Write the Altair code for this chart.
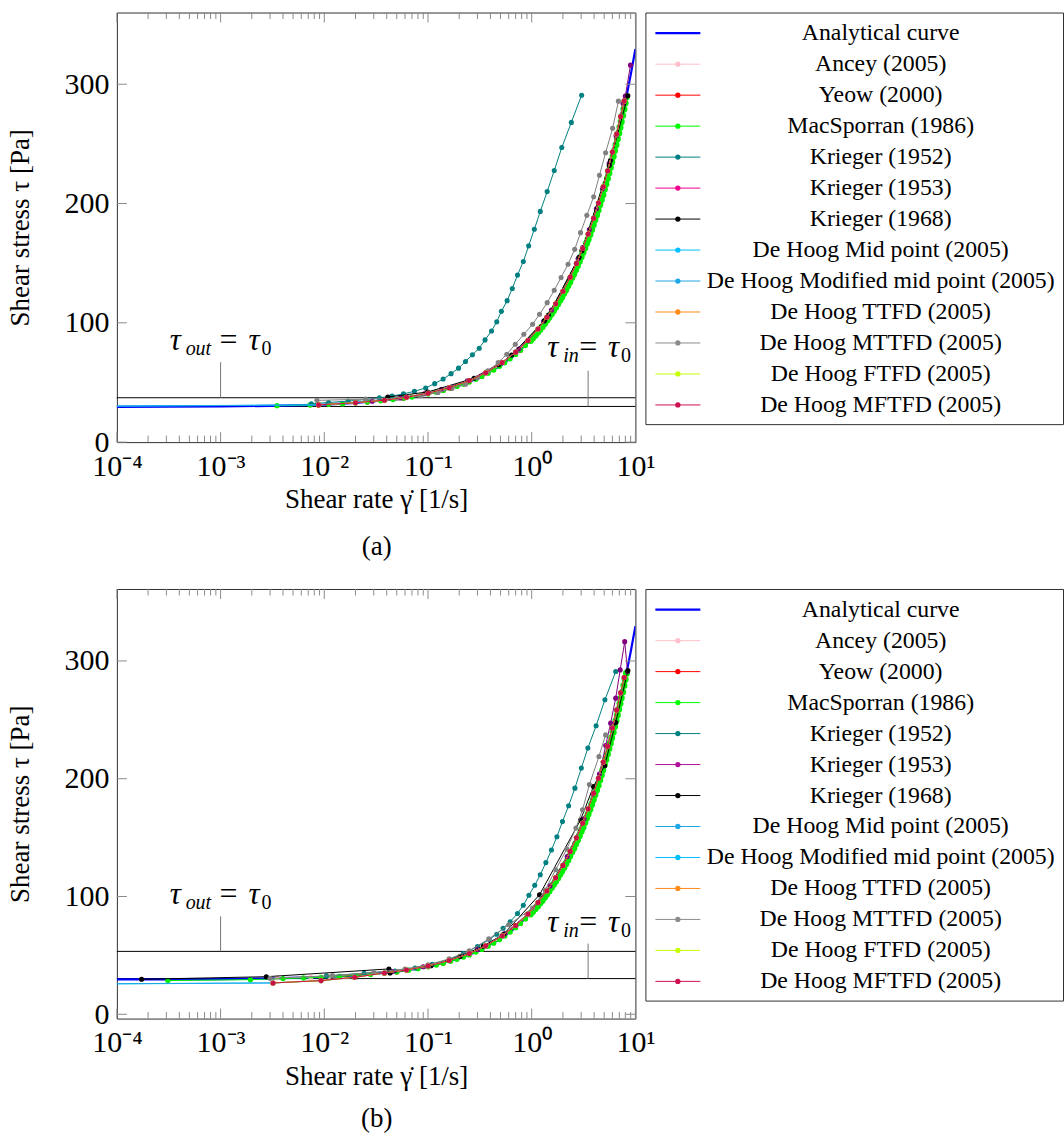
import altair as alt
import pandas as pd

# ---------------- legend entries ----------------
series_names = [
    "Analytical curve", "Ancey (2005)", "Yeow (2000)", "MacSporran (1986)",
    "Krieger (1952)", "Krieger (1953)", "Krieger (1968)",
    "De Hoog Mid point (2005)", "De Hoog Modified mid point (2005)",
    "De Hoog TTFD (2005)", "De Hoog MTTFD (2005)", "De Hoog FTFD (2005)",
    "De Hoog MFTFD (2005)",
]
legend_colors_a = ["#0000ff", "#ffc0cb", "#ff0000", "#00ff00", "#008080", "#f0008c", "#000000",
                   "#00bfff", "#1ea7e6", "#ff8c1a", "#8c8c8c", "#c8ff00", "#d0104f"]
legend_colors_b = ["#0000ff", "#ffc0cb", "#ff0000", "#00ff00", "#008080", "#b0109a", "#000000",
                   "#1ea7e6", "#00bfff", "#ff8c1a", "#8c8c8c", "#c8ff00", "#d0104f"]
mark_colors = ["#0000ff", "#ffc0cb", "#e00000", "#00ee00", "#008080", "#800080", "#000000",
               "#00bfff", "#1ea7e6", "#ff8c1a", "#808080", "#c8ff00", "#c8104a"]

x_tick_values = [1e-4, 1e-3, 1e-2, 1e-1, 1e0, 1e1]
x_tick_labels = ["10⁻⁴", "10⁻³", "10⁻²", "10⁻¹", "10⁰", "10¹"]
x_minor_values = [k * 10.0 ** e for e in range(-4, 1) for k in range(2, 10)]
y_tick_values = [0, 100, 200, 300]

# ---------------- data : shared analytical curve ----------------
analytic_x = [1e-4, 3e-4, 1e-3, 3e-3, 0.01, 0.02, 0.05, 0.1, 0.2, 0.3, 0.5, 0.7, 1, 1.5, 2, 3,
              4, 5, 6, 7, 8, 9, 10]
analytic_tau = [29.6, 29.7, 29.9, 30.4, 31.5, 32.9, 36.1, 40.3, 47.3, 53.4, 64.0, 73.5, 86.4,
                105.8, 123.3, 155.3, 184.3, 211.4, 237.0, 261.4, 284.8, 307.6, 329.5]

# MacSporran upper branch (dense), common to both panels
mac_hi_x = [0.97, 1.02, 1.08, 1.14, 1.2, 1.26, 1.33, 1.4, 1.47, 1.55, 1.62, 1.7, 1.78, 1.87,
            1.95, 2.04, 2.13, 2.23, 2.33, 2.44, 2.54, 2.65, 2.76, 2.88, 3.0, 3.12, 3.25, 3.38,
            3.5, 3.64, 3.78, 3.92, 4.07, 4.22, 4.37, 4.53, 4.69, 4.85, 5.02, 5.19, 5.37, 5.55,
            5.73, 5.91, 6.1, 6.3, 6.5, 6.7, 6.9, 7.1, 7.3, 7.52, 7.75, 7.97, 8.2]
mac_hi_tau = [85.2, 87.2, 89.6, 92.0, 94.4, 96.7, 99.4, 102.1, 104.7, 107.6, 110.1, 113.0, 115.8,
              118.9, 121.7, 124.7, 127.7, 131.0, 134.3, 137.9, 141.0, 144.5, 147.9, 151.6, 155.3,
              158.9, 162.8, 166.6, 170.1, 174.1, 178.1, 182.1, 186.3, 190.4, 194.5, 198.9, 203.2,
              207.4, 211.9, 216.4, 221.0, 225.6, 230.2, 234.7, 239.5, 244.4, 249.3, 254.1, 259.0,
              263.8, 268.5, 273.7, 279.1, 284.2, 289.5]

# ---------------- panel (a) ----------------
ancey_a_x = [0.0073, 0.015, 0.035, 0.085, 0.19, 0.43, 0.97, 1.95, 3.5, 5.37, 8.2]
ancey_a_tau = [31.1, 32.2, 34.6, 39.1, 46.7, 60.4, 85.2, 121.7, 170.1, 221.0, 289.5]
yeow_a_x = [0.011, 0.026, 0.058, 0.14, 0.33, 0.78, 1.62, 3.0, 5.02, 7.75]
yeow_a_tau = [31.7, 33.6, 36.8, 43.3, 55.1, 77.1, 110.1, 155.3, 211.9, 279.1]
mac_a_lo_x = [0.0035, 0.0073, 0.011, 0.015, 0.02, 0.026, 0.035, 0.046, 0.058, 0.07, 0.085, 0.1,
              0.12, 0.14, 0.165, 0.19, 0.22, 0.25, 0.29, 0.33, 0.38, 0.43, 0.49, 0.55, 0.62,
              0.7, 0.78, 0.87]
mac_a_lo_tau = [30.5, 31.1, 31.7, 32.2, 32.9, 33.6, 34.6, 35.7, 36.8, 37.8, 39.1, 40.3, 41.8,
                43.3, 45.0, 46.7, 48.6, 50.4, 52.8, 55.1, 57.8, 60.4, 63.5, 66.5, 69.8, 73.5,
                77.1, 81.0]
k52_a_x = [0.0075, 0.011, 0.017, 0.025, 0.034, 0.045, 0.058, 0.074, 0.095, 0.116, 0.14, 0.167,
           0.197, 0.23, 0.268, 0.312, 0.355, 0.41, 0.46, 0.51, 0.58, 0.65, 0.73, 0.83, 0.935,
           1.06, 1.21, 1.41, 1.65, 1.95, 2.41, 3.03]
k52_a_tau = [32.2, 33.2, 34.4, 35.7, 37.1, 38.6, 40.4, 42.6, 45.4, 49.0, 52.9, 57.4, 62.0, 67.6,
             73.2, 78.7, 85.7, 93.2, 100.8, 109.6, 118.6, 128.8, 140.0, 151.4, 164.5, 178.4,
             193.4, 210.0, 227.7, 246.9, 268.0, 290.8]
k53_a_x = [0.029, 0.054, 0.092, 0.135, 0.24, 0.51, 0.75, 1.3, 1.55, 2.8, 3.1, 3.6, 4.2, 4.8, 5.6,
           6.5, 7.6, 8.0, 8.96]
k53_a_tau = [34.3, 37.0, 40.5, 44.2, 51.3, 66.5, 78.0, 101.3, 110.8, 153.7, 163.0, 178.2, 195.6,
             212.3, 233.7, 256.8, 283.9, 290.0, 316.0]
k68_a_x = [0.041, 0.099, 0.278, 0.48, 0.64, 1.33, 1.45, 2.86, 3.05, 5.6, 5.75, 8.46]
k68_a_tau = [37.8, 42.0, 53.5, 64.8, 73.0, 102.0, 106.5, 155.0, 160.5, 232.0, 236.0, 290.3]
mftfd_a_x = [0.0088, 0.02, 0.038, 0.062, 0.1, 0.16, 0.25, 0.36, 0.52, 0.7, 0.92, 1.15, 1.4, 1.7,
             2.0, 2.35, 2.7, 3.1, 3.5, 3.95, 4.4, 4.9, 5.4, 6.0, 6.6, 7.2, 7.8]
mftfd_a_tau = [31.2, 33.0, 35.1, 37.6, 41.0, 45.6, 51.6, 58.1, 66.7, 75.4, 85.2, 94.8, 104.7,
               115.9, 126.4, 138.3, 149.8, 162.3, 174.5, 187.6, 200.4, 214.1, 227.5, 243.1,
               258.3, 273.0, 286.0]
dhmid_a_x = [5e-5] + mftfd_a_x
dhmid_a_tau = [30.1] + mftfd_a_tau
dhmod_a_x = [5e-5] + mftfd_a_x
dhmod_a_tau = [29.9] + mftfd_a_tau
mttfd_a_x = [0.0085, 0.025, 0.05, 0.085, 0.125, 0.17, 0.23, 0.30, 0.378, 0.475, 0.575, 0.695,
             0.84, 1.02, 1.19, 1.41, 1.65, 1.92, 2.24, 2.6, 2.96, 3.4, 3.96, 4.5, 5.16, 6.03, 6.86]
mttfd_a_tau = [35.0, 36.0, 36.8, 38.8, 41.6, 44.9, 48.6, 54.0, 59.7, 66.6, 73.7, 82.0, 90.4,
               98.8, 107.2, 116.9, 127.3, 137.9, 149.1, 161.6, 175.6, 190.1, 205.7, 223.6,
               242.6, 263.0, 285.8]

# ---------------- panel (b) ----------------
ancey_b_x = [0.0035, 0.0074, 0.0112, 0.038, 0.1, 0.25, 0.55, 1.2, 2.33, 4.07, 6.5]
ancey_b_tau = [30.9, 31.4, 32.2, 34.9, 40.3, 50.4, 66.5, 94.4, 134.3, 186.3, 249.3]
yeow_b_x = [0.014, 0.05, 0.14, 0.33, 0.78, 1.62, 3.0, 5.02, 7.75]
yeow_b_tau = [32.1, 36.0, 43.3, 55.1, 77.1, 110.1, 155.3, 211.9, 279.1]
mac_b_lo_x = [3.1e-4, 0.00194, 0.004, 0.0063, 0.0093, 0.014, 0.02, 0.028, 0.038, 0.05, 0.065,
              0.08, 0.1, 0.12, 0.14, 0.165, 0.19, 0.22, 0.25, 0.29, 0.33, 0.38, 0.43, 0.49, 0.55,
              0.62, 0.7, 0.78, 0.87]
mac_b_lo_tau = [28.6, 29.4, 30.3, 30.8, 31.3, 32.1, 32.9, 33.8, 34.9, 36.0, 37.4, 38.7, 40.3,
                41.8, 43.3, 45.0, 46.7, 48.6, 50.4, 52.8, 55.1, 57.8, 60.4, 63.5, 66.5, 69.8,
                73.5, 77.1, 81.0]
k52_b_x = [0.0105, 0.0242, 0.048, 0.075, 0.11, 0.16, 0.22, 0.3, 0.39, 0.46, 0.53, 0.62, 0.73,
           0.83, 0.94, 1.07, 1.21, 1.37, 1.55, 1.75, 1.98, 2.27, 2.61, 3.01, 3.48, 4.18, 5.08, 6.46]
k52_b_tau = [32.6, 34.8, 36.8, 39.2, 42.5, 46.5, 51.5, 57.5, 63.5, 68.0, 73.0, 78.6, 85.6, 92.6,
             101.0, 109.5, 118.5, 128.8, 139.5, 150.7, 163.6, 177.0, 192.0, 209.0, 226.0, 245.0,
             267.0, 291.0]
k53_b_x = [0.045, 0.09, 0.16, 0.3, 0.55, 0.9, 1.5, 2.2, 3.2, 3.9, 4.5, 5.17, 5.77, 6.46, 7.13,
           7.89, 8.4]
k53_b_tau = [36.2, 40.3, 45.8, 55.0, 68.5, 84.7, 109.0, 134.0, 166.0, 187.0, 204.0, 228.2,
             247.2, 268.4, 292.4, 316.4, 291.0]
k68_b_x = [1.73e-4, 0.00276, 0.042, 0.043, 0.107, 0.205, 0.341, 0.532, 1.19, 2.96, 3.94, 5.05,
           6.46, 8.46]
k68_b_tau = [29.7, 31.9, 38.5, 35.1, 41.3, 49.2, 57.7, 67.6, 101.5, 165.0, 193.4, 211.0, 247.7,
             291.8]
mftfd_b_x = [0.0032, 0.0093, 0.0196, 0.038, 0.062, 0.1, 0.16, 0.25, 0.36, 0.52, 0.7, 0.92, 1.15,
             1.4, 1.7, 2.0, 2.35, 2.7, 3.1, 3.5, 3.95, 4.4, 4.9, 5.4, 6.0, 6.6, 7.2, 7.8]
mftfd_b_tau = [26.6, 28.6, 31.4, 35.1, 37.6, 41.0, 45.6, 51.6, 58.1, 66.7, 75.4, 85.2, 94.8,
               104.7, 115.9, 126.4, 138.3, 149.8, 162.3, 174.5, 187.6, 200.4, 214.1, 227.5,
               243.1, 258.3, 273.0, 286.0]
dhmid_b_x = [5e-5] + mftfd_b_x
dhmid_b_tau = [25.6] + mftfd_b_tau
dhmod_b_x = [5e-5] + mftfd_b_x
dhmod_b_tau = [25.9] + mftfd_b_tau
mttfd_b_x = [0.003, 0.012, 0.03, 0.06, 0.1, 0.16, 0.25, 0.386, 0.6, 1.02, 1.35, 1.7, 2.18, 2.67,
             3.09, 3.6, 4.45, 5.16]
mttfd_b_tau = [30.5, 32.8, 35.5, 38.5, 42.0, 47.0, 54.0, 64.0, 76.0, 90.2, 105.5, 122.7, 140.3,
               158.1, 173.6, 195.0, 218.8, 237.2]

panel_a_series = [
    (analytic_x, analytic_tau), (ancey_a_x, ancey_a_tau), (yeow_a_x, yeow_a_tau),
    (mac_a_lo_x + mac_hi_x, mac_a_lo_tau + mac_hi_tau), (k52_a_x, k52_a_tau),
    (k53_a_x, k53_a_tau), (k68_a_x, k68_a_tau),
    (dhmid_a_x, dhmid_a_tau), (dhmod_a_x, dhmod_a_tau), (mftfd_a_x, mftfd_a_tau),
    (mttfd_a_x, mttfd_a_tau), (mftfd_a_x, mftfd_a_tau), (mftfd_a_x, mftfd_a_tau),
]
panel_b_series = [
    (analytic_x, analytic_tau), (ancey_b_x, ancey_b_tau), (yeow_b_x, yeow_b_tau),
    (mac_b_lo_x + mac_hi_x, mac_b_lo_tau + mac_hi_tau), (k52_b_x, k52_b_tau),
    (k53_b_x, k53_b_tau), (k68_b_x, k68_b_tau),
    (dhmid_b_x, dhmid_b_tau), (dhmod_b_x, dhmod_b_tau), (mftfd_b_x, mftfd_b_tau),
    (mttfd_b_x, mttfd_b_tau), (mftfd_b_x, mftfd_b_tau), (mftfd_b_x, mftfd_b_tau),
]

# horizontal reference lines and annotation positions (data units)
hlines_a = [37.2, 29.9]
hlines_b = [53.4, 30.3]
vlines_a = [(1e-3, 37.2, 67.0), (3.5, 29.9, 59.8)]
vlines_b = [(1e-3, 53.4, 83.1), (3.5, 30.3, 60.0)]
ann_a = {"out": (1e-3, 77.6), "in": (3.5, 71.4)}
ann_b = {"out": (1e-3, 93.6), "in": (3.5, 69.5)}

# ---------------- styling ----------------
W, H = 519, 430
FONT = "Liberation Serif"
TICK_C = "#8a8a8a"
tau_out_pieces = [("τ", -51, 0, 31, "italic"), ("out", -35, 5, 20, "italic"),
                  ("=", -1, 0, 32, "normal"), ("τ", 28, 0, 31, "italic"), ("0", 41, 5, 20, "normal")]
tau_in_pieces = [("τ", -41, 0, 31, "italic"), ("in", -25, 5, 20, "italic"),
                 ("=", -9, 0, 32, "normal"), ("τ", 20, 0, 31, "italic"), ("0", 33, 5, 20, "normal")]

label_expr = "[" + ",".join("'" + s + "'" for s in x_tick_labels) + "][round(log(datum.value)/LN10)+4]"


def panel(series, hlines, vlines, ann, ydomain, caption, n_mac_lo, title_pad, cap_gap):
    xs = alt.Scale(type="log", domain=[1e-4, 10], nice=False)
    ys = alt.Scale(domain=ydomain, nice=False, zero=False)
    xax = alt.Axis(values=x_tick_values, labelExpr=label_expr, ticks=False, domain=False,
                   grid=False, labelFont=FONT, labelFontSize=30, labelColor="black",
                   labelPadding=9, labelFlush=False,
                   title=["Shear rate γ̇ [1/s]", caption], titleFont=FONT, titleFontSize=27,
                   titleFontWeight="normal", titleColor="black", titlePadding=title_pad,
                   titleLineHeight=cap_gap)
    yax = alt.Axis(values=y_tick_values, format="d", ticks=False, domain=False, grid=False,
                   labelFont=FONT, labelFontSize=30, labelColor="black", labelPadding=8,
                   title="Shear stress τ [Pa]", titleFont=FONT, titleFontSize=27,
                   titleFontWeight="normal", titleColor="black", titlePadding=29)
    X = lambda f: alt.X(f, scale=xs, axis=xax)
    Y = lambda f: alt.Y(f, scale=ys, axis=yax)
    layers = []
    layers.append(
        alt.Chart(pd.DataFrame({"t": hlines})).mark_rule(color="black", strokeWidth=1).encode(
            y=Y("t:Q"), x=alt.value(0), x2=alt.value(W)))
    vdf = pd.DataFrame({"x": [v[0] for v in vlines], "t1": [v[1] for v in vlines],
                        "t2": [v[2] for v in vlines]})
    layers.append(
        alt.Chart(vdf).mark_rule(color="#777777", strokeWidth=1).encode(
            x=X("x:Q"), y=Y("t1:Q"), y2="t2:Q"))
    for (xv, tv), col, name in zip(series, mark_colors, series_names):
        n = len(xv)
        if name.startswith("MacSporran"):
            sizes = [28] * n_mac_lo + [50] * (n - n_mac_lo)
        else:
            sizes = [26] * n
        df = pd.DataFrame({"x": xv, "t": tv, "i": list(range(n)), "s": sizes})
        if name == "Analytical curve":
            layers.append(alt.Chart(df).mark_line(color=col, strokeWidth=2.2, clip=True).encode(
                x=X("x:Q"), y=Y("t:Q"), order=alt.Order("i:Q")))
        else:
            layers.append(alt.Chart(df).mark_line(color=col, strokeWidth=1, clip=True).encode(
                x=X("x:Q"), y=Y("t:Q"), order=alt.Order("i:Q")))
            layers.append(alt.Chart(df).mark_circle(color=col, opacity=1, clip=True).encode(
                x=X("x:Q"), y=Y("t:Q"), size=alt.Size("s:Q", scale=None, legend=None)))
    maj = pd.DataFrame({"v": x_tick_values})
    mnr = pd.DataFrame({"v": x_minor_values})
    for d, ln in ((maj, 10), (mnr, 6.5)):
        layers.append(alt.Chart(d).mark_rule(color=TICK_C, strokeWidth=1).encode(
            x=X("v:Q"), y=alt.value(0), y2=alt.value(ln)))
        layers.append(alt.Chart(d).mark_rule(color=TICK_C, strokeWidth=1).encode(
            x=X("v:Q"), y=alt.value(H), y2=alt.value(H - ln)))
    yt = pd.DataFrame({"v": y_tick_values})
    layers.append(alt.Chart(yt).mark_rule(color=TICK_C, strokeWidth=1).encode(
        y=Y("v:Q"), x=alt.value(0), x2=alt.value(10)))
    layers.append(alt.Chart(yt).mark_rule(color=TICK_C, strokeWidth=1).encode(
        y=Y("v:Q"), x=alt.value(W - 10), x2=alt.value(W)))
    for key, pieces in (("out", tau_out_pieces), ("in", tau_in_pieces)):
        ax, at = ann[key]
        adf = pd.DataFrame({"x": [ax], "t": [at]})
        for txt, dx, dy, fs, style in pieces:
            layers.append(alt.Chart(adf).mark_text(
                text=txt, align="left", baseline="alphabetic", dx=dx, dy=dy, fontSize=fs,
                fontStyle=style, font=FONT, color="black").encode(x=X("x:Q"), y=Y("t:Q")))
    return alt.layer(*layers).properties(width=W, height=H)


def legend(colors):
    df = pd.DataFrame({"name": series_names, "row": list(range(len(series_names))),
                       "color": colors})
    yenc = alt.Y("row:Q", scale=alt.Scale(domain=[-0.668, 12.62], reverse=True, nice=False,
                                          zero=False), axis=None)
    base = alt.Chart(df)
    lines = base.mark_rule().encode(
        x=alt.value(10), x2=alt.value(55), y=yenc,
        color=alt.Color("color:N", scale=None),
        strokeWidth=alt.condition("datum.row == 0", alt.value(2.2), alt.value(1)))
    dots = base.transform_filter("datum.row > 0").mark_circle(size=28, opacity=1).encode(
        x=alt.value(32.5), y=yenc, color=alt.Color("color:N", scale=None))
    text = base.mark_text(align="center", baseline="middle", font=FONT, fontSize=23.8,
                          color="black").encode(x=alt.value(235.5), y=yenc, text="name:N")
    return alt.layer(lines, dots, text).properties(width=418, height=412)


row_a = alt.hconcat(panel(panel_a_series, hlines_a, vlines_a, ann_a, [0, 360.1], "(a)",
                          len(mac_a_lo_x), 5, 47),
                    legend(legend_colors_a), spacing=10, bounds="flush")
row_b = alt.hconcat(panel(panel_b_series, hlines_b, vlines_b, ann_b, [-3.65, 361.1], "(b)",
                          len(mac_b_lo_x), 6, 42),
                    legend(legend_colors_b), spacing=10, bounds="flush")

chart = alt.vconcat(row_a, row_b, spacing=28).properties(
    padding={"left": 6, "top": 11, "right": 0, "bottom": 0},
    background="white",
).configure_view(stroke="#303030", strokeWidth=1)

chart.save("out.html", embed_options={"renderer": "svg", "actions": False})
